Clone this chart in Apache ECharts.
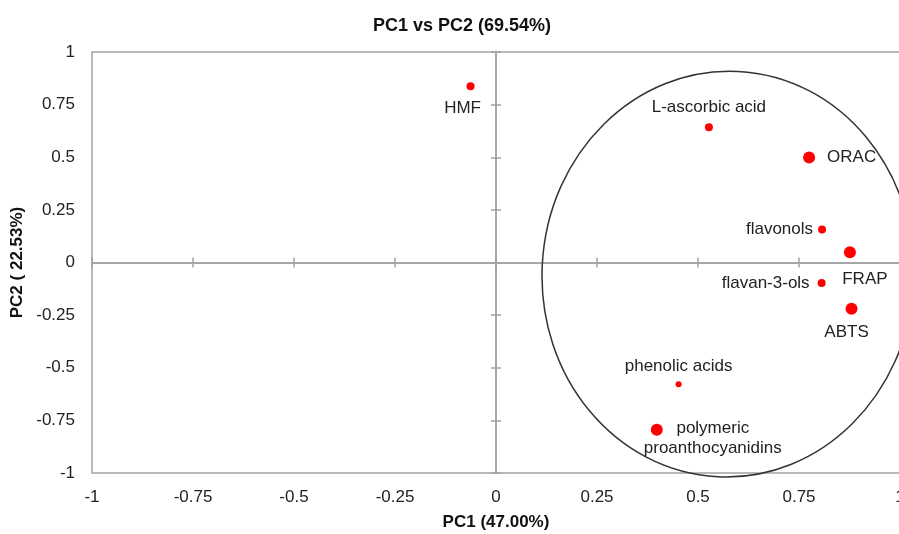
<!DOCTYPE html>
<html>
<head>
<meta charset="utf-8">
<title>PC1 vs PC2</title>
<script src="https://cdn.jsdelivr.net/npm/echarts@6/dist/echarts.min.js"></script>
<style>
  html, body { margin: 0; padding: 0; background: #fff; }
  #chart { width: 899px; height: 534px; }
</style>
</head>
<body>
<div id="chart"></div>
<script>
// loadings
var pointNames = ['HMF', 'L-ascorbic acid', 'ORAC', 'flavonols', 'FRAP',
                  'flavan-3-ols', 'ABTS', 'phenolic acids', 'polymeric proanthocyanidins'];
var pc1 = [-0.063, 0.527, 0.775, 0.807, 0.876, 0.806, 0.880, 0.452, 0.398];
var pc2 = [0.837, 0.643, 0.499, 0.157, 0.049, -0.097, -0.220, -0.578, -0.795];

// ellipse drawn round the cluster: centre x, centre y, half width, half height (data units)
var ellipse = [0.574, -0.055, 0.46, 0.964];

var axisMin = -1, axisMax = 1, axisStep = 0.25;

var font = '"Liberation Sans", Arial, sans-serif';
var axisGrey = '#a3a3a3';

// dot size and label placement per point
var bigDots = ['ORAC', 'FRAP', 'ABTS', 'polymeric proanthocyanidins'];
var labelOpts = {
  'HMF': { position: 'bottom', distance: 10, offset: [-8, 0] },
  'L-ascorbic acid': { position: 'top', distance: 7 },
  'ORAC': { position: 'right', distance: 12 },
  'flavonols': { position: 'left', distance: 5 },
  'FRAP': { position: 'bottom', distance: 13, offset: [15, 0] },
  'flavan-3-ols': { position: 'left', distance: 8 },
  'ABTS': { position: 'bottom', distance: 9, offset: [-5, 0] },
  'phenolic acids': { position: 'top', distance: 6 },
  'polymeric proanthocyanidins': {
    position: 'inside', offset: [56, 8], align: 'center', lineHeight: 20,
    formatter: 'polymeric\nproanthocyanidins'
  }
};

var chart = echarts.init(document.getElementById('chart'));

var points = pointNames.map(function (n, i) {
  var size = bigDots.indexOf(n) >= 0 ? 12 : 8;
  if (n === 'phenolic acids') size = 6;
  return { name: n, value: [pc1[i], pc2[i]], symbolSize: size, label: labelOpts[n] };
});

function valueAxis(extra) {
  var a = {
    type: 'value', min: axisMin, max: axisMax, interval: axisStep,
    splitLine: { show: false },
    axisLabel: { show: false },
    axisTick: { show: false },
    axisLine: { show: false, onZero: false }
  };
  for (var k in extra) a[k] = extra[k];
  return a;
}

var tickLine = { color: axisGrey, width: 1.5 };

var option = {
  animation: false,
  title: {
    text: 'PC1 vs PC2 (69.54%)',
    left: 457, top: 12, textAlign: 'center',
    textStyle: { fontFamily: font, fontSize: 18, fontWeight: 'bold', color: '#111' }
  },
  grid: {
    left: 92, top: 52, right: -1, bottom: 61,
    show: true, borderColor: axisGrey, borderWidth: 1.5,
    outerBoundsMode: 'none'
  },
  xAxis: [
    valueAxis({
      position: 'bottom',
      axisLabel: { show: true, margin: 16, fontSize: 17, color: '#222', fontFamily: font },
      name: 'PC1 (47.00%)', nameLocation: 'middle', nameGap: 41,
      nameTextStyle: { fontFamily: font, fontSize: 17, fontWeight: 'bold', color: '#111' }
    }),
    valueAxis({
      axisLine: { show: true, onZero: true, onZeroAxisIndex: 1, lineStyle: tickLine },
      axisTick: { show: true, length: 5, lineStyle: tickLine }
    }),
    valueAxis({
      axisLine: { show: true, onZero: true, onZeroAxisIndex: 1, lineStyle: tickLine },
      axisTick: { show: true, inside: true, length: 5, lineStyle: tickLine }
    })
  ],
  yAxis: [
    valueAxis({
      position: 'left',
      axisLabel: { show: true, margin: 17, fontSize: 17, color: '#222', fontFamily: font },
      name: 'PC2 ( 22.53%)', nameLocation: 'middle', nameGap: 59,
      nameTextStyle: { fontFamily: font, fontSize: 17, fontWeight: 'bold', color: '#111' }
    }),
    valueAxis({
      axisLine: { show: true, onZero: true, onZeroAxisIndex: 1, lineStyle: tickLine },
      axisTick: { show: true, length: 5, lineStyle: tickLine }
    }),
    valueAxis({
      axisLine: { show: true, onZero: true, onZeroAxisIndex: 1, lineStyle: tickLine },
      axisTick: { show: true, inside: true, length: 5, lineStyle: tickLine }
    })
  ],
  series: [
    {
      type: 'custom',
      xAxisIndex: 0, yAxisIndex: 0,
      silent: true, clip: false, z: 1,
      data: [ellipse],
      renderItem: function (params, api) {
        var c = api.coord([api.value(0), api.value(1)]);
        var s = api.size([api.value(2), api.value(3)]);
        return {
          type: 'ellipse',
          x: c[0], y: c[1], rotation: -0.05,
          shape: { cx: 0, cy: 0, rx: s[0], ry: s[1] },
          style: { fill: 'none', stroke: '#333', lineWidth: 1.5 }
        };
      }
    },
    {
      type: 'scatter',
      xAxisIndex: 0, yAxisIndex: 0, z: 3,
      itemStyle: { color: '#ff0000', opacity: 1 },
      label: {
        show: true, formatter: '{b}', fontFamily: font, fontSize: 17, color: '#222'
      },
      data: points
    }
  ]
};

chart.setOption(option);
</script>
</body>
</html>
